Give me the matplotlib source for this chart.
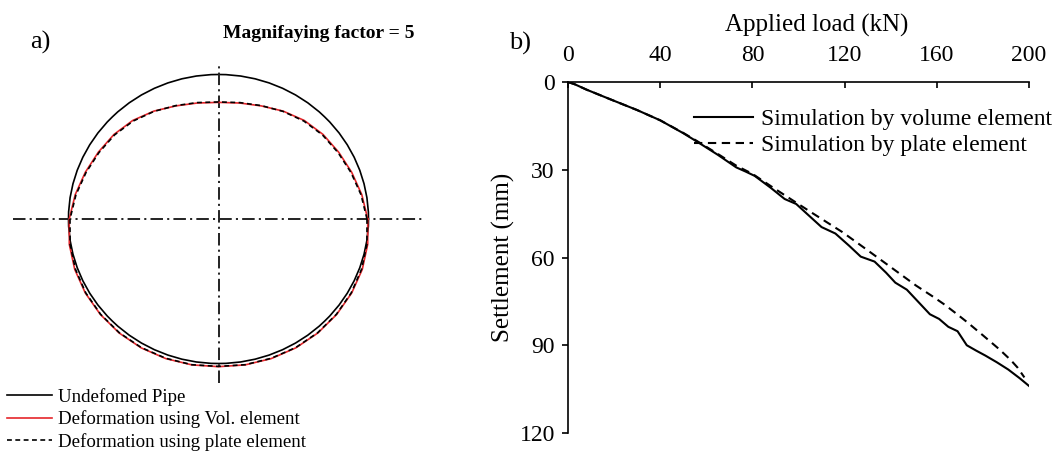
import numpy as np
import matplotlib
matplotlib.use("Agg")
import matplotlib.pyplot as plt
from matplotlib.patches import Circle
from matplotlib.lines import Line2D

plt.rcParams["font.family"] = ["Liberation Serif", "DejaVu Serif"]
plt.rcParams["lines.scale_dashes"] = False

# ---------- (a) pipe cross-section, deformed shape x5 ----------
# polar angle (deg, from +x, counter-clockwise) and radius relative to the undeformed pipe
ring_angle = [0, 10, 20, 30, 40, 50, 60, 70, 80, 90, 100, 110, 120, 130, 140, 150, 160, 170,
              180, 190, 200, 210, 220, 230, 240, 250, 260, 270, 280, 290, 300, 310, 320, 330,
              340, 350, 360]
ring_vol = [0.995, 0.97, 0.945, 0.925, 0.91, 0.89, 0.862, 0.833, 0.815, 0.807, 0.815, 0.833,
            0.862, 0.89, 0.91, 0.925, 0.945, 0.97, 0.995, 1.01, 1.02, 1.025, 1.028, 1.03, 1.03,
            1.028, 1.025, 1.022, 1.025, 1.028, 1.03, 1.03, 1.028, 1.025, 1.02, 1.01, 0.995]
ring_plate = [0.99, 0.965, 0.94, 0.92, 0.905, 0.885, 0.86, 0.835, 0.818, 0.81, 0.818, 0.835,
              0.86, 0.885, 0.905, 0.92, 0.94, 0.965, 0.99, 1.005, 1.015, 1.022, 1.026, 1.028,
              1.028, 1.026, 1.024, 1.02, 1.024, 1.026, 1.028, 1.028, 1.026, 1.022, 1.015, 1.005,
              0.99]
pipe_radius = 1.0
legend_a = ["Undefomed Pipe", "Deformation using Vol. element", "Deformation using plate element"]

# ---------- (b) load - settlement ----------
load_vol = [0, 3, 8, 18, 30, 40, 50, 56, 65, 73, 77, 81, 88, 94, 99, 104, 110, 116, 122, 127,
            133, 138, 142, 147, 152, 157, 161, 165, 169, 173, 177, 181, 186, 191, 196, 200]
settle_vol = [0, 0.8, 2.6, 5.8, 9.6, 13.1, 17.5, 20.4, 24.9, 29.2, 30.6, 32.1, 36.2, 40.0, 41.7,
              45.3, 49.6, 51.8, 56.0, 59.7, 61.4, 65.2, 68.6, 71.0, 75.2, 79.4, 81.0, 83.7, 85.2,
              90.0, 91.8, 93.5, 95.8, 98.3, 101.3, 103.9]
load_plate = [0, 3, 8, 18, 30, 40, 50, 56, 65, 73, 80, 88, 95, 106, 119, 128, 135, 143, 151,
              158, 163, 168, 173, 180, 187, 192, 195, 198]
settle_plate = [0, 0.8, 2.6, 5.8, 9.6, 13.1, 17.4, 20.2, 24.6, 28.6, 31.4, 35.6, 39.2, 44.8,
                51.3, 56.4, 60.4, 65.0, 69.6, 73.2, 75.9, 78.9, 82.0, 86.6, 91.3, 95.0, 97.6,
                101.0]
load_ticks = [0, 40, 80, 120, 160, 200]
settle_ticks = [0, 30, 60, 90, 120]
legend_b = ["Simulation by volume element", "Simulation by plate element"]

W, H = 1054, 459
fig = plt.figure(figsize=(W / 100, H / 100), dpi=100)

# panel a lives in plain data units: pipe radius = 1, centre at the origin
ax_a = fig.add_axes([0, 0, 460 / W, 1])
ax_a.set_xlim(-218.5 / 150, (460 - 218.5) / 150)
ax_a.set_ylim(-(H - 219) / 144.5, 219 / 144.5)
ax_a.axis("off")

centre_kw = dict(color="#222222", lw=1.4, dashes=(9, 3, 1.5, 3))
ax_a.plot([-1.37, 1.37], [0, 0], **centre_kw)
ax_a.plot([0, 0], [-1.135, 1.08], **centre_kw)

ax_a.add_patch(Circle((0, 0), pipe_radius, fill=False, ec="black", lw=1.2))
th = np.radians(ring_angle)
ax_a.plot(np.array(ring_vol) * np.cos(th), np.array(ring_vol) * np.sin(th),
          color="#e5262b", lw=1.2)
ax_a.plot(np.array(ring_plate) * np.cos(th), np.array(ring_plate) * np.sin(th),
          color="black", lw=1.2, dashes=(3.5, 2.5))

handles_a = [Line2D([], [], color="black", lw=1.2),
             Line2D([], [], color="#e5262b", lw=1.2),
             Line2D([], [], color="black", lw=1.2, dashes=(3.5, 2.5))]
ax_a.legend(handles_a, legend_a, loc="upper left", bbox_to_anchor=(7 / W, 1 - 388 / H),
            bbox_transform=fig.transFigure, frameon=False, fontsize=13.6, borderpad=0,
            borderaxespad=0, handlelength=2.4, handletextpad=0.3, labelspacing=0.24)

fig.text(30 / W, 1 - 42 / H, "a)", fontsize=19, va="center")
fig.text(223 / W, 1 - 34 / H, "Magnifaying factor = 5", fontsize=14,
         fontweight="bold", va="center")

# panel b
ax_b = fig.add_axes([568 / W, 1 - 433 / H, (1029 - 568) / W, (433 - 82) / H])
ax_b.plot(load_vol, settle_vol, color="black", lw=1.5, label=legend_b[0])
ax_b.plot(load_plate, settle_plate, color="black", lw=1.5, dashes=(6, 4), label=legend_b[1])
ax_b.set_xlim(0, 200)
ax_b.set_ylim(120, 0)
ax_b.set_xticks(load_ticks)
ax_b.set_yticks(settle_ticks)
ax_b.xaxis.tick_top()
ax_b.xaxis.set_label_position("top")
for side in ["right", "bottom"]:
    ax_b.spines[side].set_visible(False)
for side in ["top", "left"]:
    ax_b.spines[side].set_linewidth(1.2)
ax_b.tick_params(axis="x", direction="in", length=4.5, width=1.2, labelsize=17, pad=11.4)
ax_b.tick_params(axis="y", direction="out", length=4.5, width=1.2, labelsize=17, pad=5)
ax_b.set_xlabel("Applied load (kN)", fontsize=18)
ax_b.set_ylabel("Settlement (mm)", fontsize=18)
ax_b.xaxis.set_label_coords(0.54, 1.143)
ax_b.yaxis.set_label_coords(-0.115, 0.5)
ax_b.legend(loc="upper left", bbox_to_anchor=(694 / W, 1 - 108.5 / H),
            bbox_transform=fig.transFigure, frameon=False, fontsize=17, borderpad=0,
            borderaxespad=0, handlelength=2.5, handletextpad=0.34, labelspacing=0.19)

fig.text(509 / W, 1 - 43 / H, "b)", fontsize=19, va="center")

fig.savefig("out.png", dpi=100)
